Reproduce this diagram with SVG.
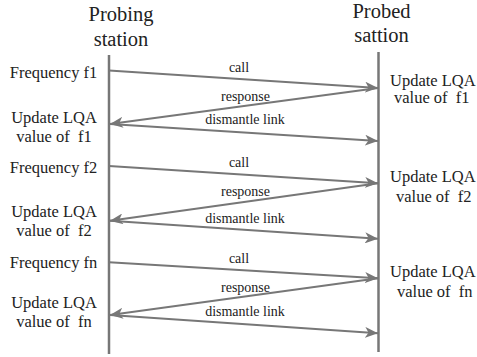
<svg xmlns="http://www.w3.org/2000/svg" width="477" height="357" viewBox="0 0 477 357" font-family="'Liberation Serif', 'Times New Roman', 'DejaVu Serif', serif">
<style>
text{font-family:"Liberation Serif","Times New Roman","DejaVu Serif",serif;fill:#222;white-space:pre}
.t{font-size:20.5px;text-anchor:middle}
.l{font-size:16.5px}
.c{text-anchor:middle}
.s{font-size:14px;text-anchor:middle}
.life{stroke:#777;stroke-width:2.5;fill:none}
.msg{stroke:#777;stroke-width:2;fill:none;marker-end:url(#ah)}
</style>
<defs>
<marker id="ah" markerUnits="userSpaceOnUse" markerWidth="14" markerHeight="11" refX="13" refY="5.5" orient="auto">
<path d="M0,0 L13,5.5 L0,11 L3.5,5.5 z" fill="#777"/>
</marker>
</defs>
<rect width="477" height="357" fill="#fff"/>
<g id="probing-station">
<text class="t" x="121" y="20.5">Probing</text>
<text class="t" x="121" y="46">station</text>
<line class="life" x1="109" y1="55" x2="109" y2="354"/>
</g>
<g id="probed-station">
<text class="t" x="381.5" y="18">Probed</text>
<text class="t" x="381.5" y="42">sattion</text>
<line class="life" x1="378.5" y1="52" x2="378.5" y2="352"/>
</g>
<g id="left-labels">
<text class="l c" x="53.5" y="77.7">Frequency f1</text>
<text class="l c" x="54" y="122.7">Update LQA</text>
<text class="l c" x="54" y="141.7">value of  f1</text>
<text class="l c" x="53.5" y="172.7">Frequency f2</text>
<text class="l c" x="54" y="216.7">Update LQA</text>
<text class="l c" x="54" y="236">value of  f2</text>
<text class="l c" x="53.5" y="267.7">Frequency fn</text>
<text class="l c" x="54" y="308.3">Update LQA</text>
<text class="l c" x="54" y="326.7">value of  fn</text>
</g>
<g id="right-labels">
<text class="l" x="390" y="86">Update LQA</text>
<text class="l" x="394" y="103.3">value of  f1</text>
<text class="l" x="390" y="182.3">Update LQA</text>
<text class="l" x="396" y="201.7">value of  f2</text>
<text class="l" x="390" y="276.7">Update LQA</text>
<text class="l" x="397" y="296.7">value of  fn</text>
</g>
<g id="connectors">
<line class="msg" x1="109" y1="70.5" x2="378" y2="88"/>
<line class="msg" x1="378" y1="88" x2="110" y2="124"/>
<line class="msg" x1="110" y1="124" x2="378" y2="141"/>
<line class="msg" x1="109" y1="166" x2="378" y2="183.3"/>
<line class="msg" x1="378" y1="183.3" x2="110" y2="220.7"/>
<line class="msg" x1="110" y1="220.7" x2="378" y2="238.7"/>
<line class="msg" x1="109" y1="262.3" x2="378" y2="278.3"/>
<line class="msg" x1="378" y1="278.3" x2="110" y2="315"/>
<line class="msg" x1="110" y1="315" x2="378" y2="333.3"/>
<text class="s" x="239" y="72.3">call</text>
<text class="s" x="245.5" y="101">response</text>
<text class="s" x="245" y="124">dismantle link</text>
<text class="s" x="239" y="167.3">call</text>
<text class="s" x="245.5" y="195.7">response</text>
<text class="s" x="245" y="223.3">dismantle link</text>
<text class="s" x="239" y="263.3">call</text>
<text class="s" x="245.5" y="291.7">response</text>
<text class="s" x="245" y="316">dismantle link</text>
</g>
</svg>
